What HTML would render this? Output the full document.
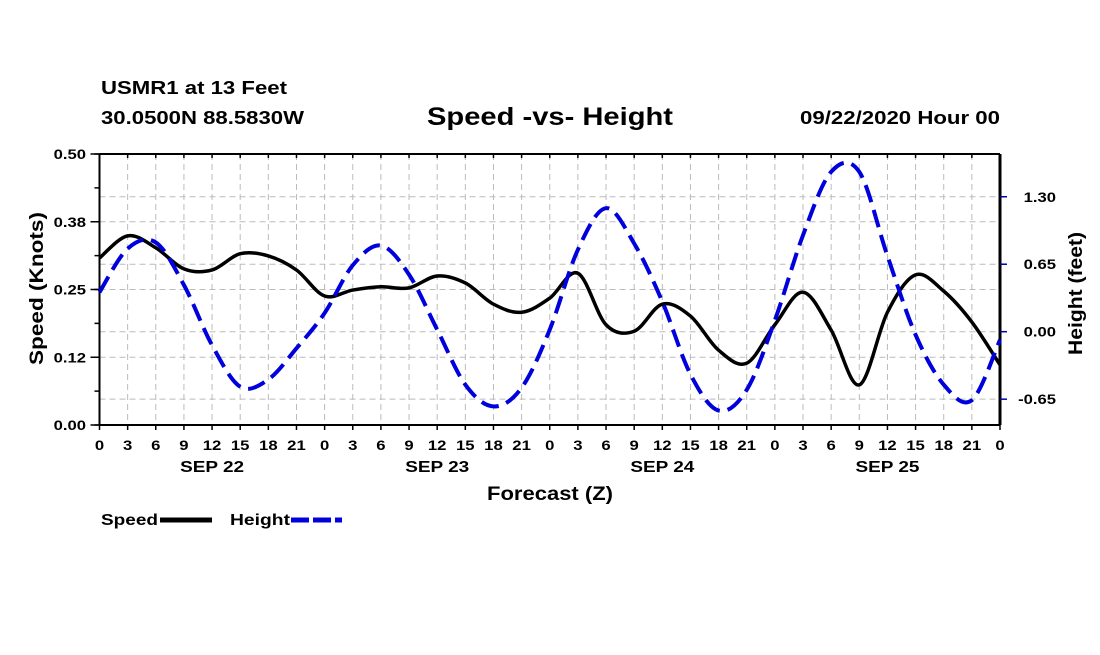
<!DOCTYPE html>
<html><head><meta charset="utf-8"><style>
body{margin:0;background:#fff;width:1100px;height:650px;overflow:hidden}
svg text{font-family:"Liberation Sans",sans-serif;font-weight:bold;fill:#000}
</style></head><body>
<svg id="chart" width="1100" height="650" xmlns="http://www.w3.org/2000/svg">
<text x="101" y="94" font-size="18" textLength="186" lengthAdjust="spacingAndGlyphs">USMR1 at 13 Feet</text>
<text x="101" y="124" font-size="18" textLength="203" lengthAdjust="spacingAndGlyphs">30.0500N 88.5830W</text>
<text x="427" y="125" font-size="25" textLength="246" lengthAdjust="spacingAndGlyphs">Speed -vs- Height</text>
<text x="800" y="124" font-size="18" textLength="200" lengthAdjust="spacingAndGlyphs">09/22/2020 Hour 00</text>
<g id="grid"></g>
<g id="axes"></g>
<g id="series"></g>
<text transform="translate(43,365) rotate(-90)" font-size="19" textLength="153" lengthAdjust="spacingAndGlyphs">Speed (Knots)</text>
<text transform="translate(1082,355) rotate(-90)" font-size="19" textLength="123" lengthAdjust="spacingAndGlyphs">Height (feet)</text>
<text x="487" y="500" font-size="19" textLength="126" lengthAdjust="spacingAndGlyphs">Forecast (Z)</text>
<g>
<text x="101" y="525" font-size="16" textLength="57" lengthAdjust="spacingAndGlyphs">Speed</text>
<line x1="160" y1="520" x2="212" y2="520" stroke="#000" stroke-width="5"/>
<text x="230" y="525" font-size="16" textLength="60" lengthAdjust="spacingAndGlyphs">Height</text>
<line x1="291" y1="520" x2="342" y2="520" stroke="#0000dd" stroke-width="5" stroke-dasharray="18,4"/>
</g>
</svg>
<script>
const hours=[0,3,6,9,12,15,18,21,24,27,30,33,36,39,42,45,48,51,54,57,60,63,66,69,72,75,78,81,84,87,90,93,96];
const speedValues=[0.308,0.349,0.327,0.288,0.286,0.316,0.312,0.286,0.238,0.249,0.255,0.253,0.275,0.262,0.223,0.208,0.234,0.280,0.185,0.173,0.223,0.201,0.138,0.114,0.185,0.245,0.175,0.074,0.208,0.277,0.247,0.190,0.111];
const heightValues=[0.38,0.80,0.86,0.45,-0.13,-0.53,-0.46,-0.16,0.18,0.64,0.83,0.55,0.02,-0.51,-0.72,-0.54,0.02,0.79,1.19,0.85,0.29,-0.41,-0.76,-0.56,0.11,0.93,1.54,1.54,0.73,-0.03,-0.51,-0.66,-0.08];
const speedTicks=[0,0.125,0.25,0.375,0.5];
const speedTickLabels=["0.00","0.12","0.25","0.38","0.50"];
const heightTicks=[-0.65,0,0.65,1.30];
const heightTickLabels=["-0.65","0.00","0.65","1.30"];
const dayLabels=["SEP 22","SEP 23","SEP 24","SEP 25"];
const L=99.5,R=1000,T=154,B=425;
const xs=h=>L+h*(R-L)/96;
const ys=v=>B-v*(B-T)/0.5;
const yh=v=>331.7-v*103.8;
const NS="http://www.w3.org/2000/svg";
function mk(tag,attrs,parent){const e=document.createElementNS(NS,tag);for(const k in attrs)e.setAttribute(k,attrs[k]);parent.appendChild(e);return e;}
function tw(s){let w=0;for(const c of s){w+=c==='.'?4.5:(c==='-'?5.5:9.3);}return w;}
const grid=document.getElementById('grid'),axes=document.getElementById('axes'),series=document.getElementById('series');
for(let h=3;h<96;h+=3){
 const g=mk('line',{x1:xs(h),x2:xs(h),y1:T,y2:B,stroke:'#bbb','stroke-width':1,'stroke-dasharray':'6,4'},grid);
 
 
}
speedTicks.slice(1,4).forEach(v=>{
 const g=mk('line',{x1:L,x2:R,y1:ys(v),y2:ys(v),stroke:'#bbb','stroke-width':1,'stroke-dasharray':'6,4'},grid);
 
 
});
heightTicks.forEach(v=>{
 const g=mk('line',{x1:L,x2:R,y1:yh(v),y2:yh(v),stroke:'#bbb','stroke-width':1,'stroke-dasharray':'6,4'},grid);
 
 
});
let a=mk('line',{x1:L,x2:L,y1:T,y2:B,stroke:'#000','stroke-width':2},axes);

a=mk('line',{x1:R,x2:R,y1:T,y2:B,stroke:'#000','stroke-width':3},axes);

a=mk('line',{x1:L,x2:R,y1:B,y2:B,stroke:'#000','stroke-width':2},axes);

a=mk('line',{x1:L,x2:R,y1:T,y2:T,stroke:'#000','stroke-width':2},axes);

for(let h=0;h<=96;h+=3){
 mk('line',{x1:xs(h),x2:xs(h),y1:B,y2:B+5,stroke:'#000','stroke-width':1.5},axes);
 mk('line',{x1:xs(h),x2:xs(h),y1:T,y2:T+4,stroke:'#000','stroke-width':1.5},axes);
 const s=String(h%24);
 const t=mk('text',{x:xs(h)-tw(s)/2,y:450,'font-size':14,textLength:tw(s),lengthAdjust:'spacingAndGlyphs'},axes);
 t.textContent=s;
 
 
}
dayLabels.forEach((d,i)=>{
 const t=mk('text',{x:xs(12+24*i)-32,y:472,'font-size':16,textLength:64,lengthAdjust:'spacingAndGlyphs'},axes);
 t.textContent=d;
 
 
});
for(let v=0;v<=0.5001;v+=0.0625){mk('line',{x1:L-5,x2:L,y1:ys(v),y2:ys(v),stroke:'#000','stroke-width':1.5},axes);}
speedTicks.forEach((v,i)=>{
 mk('line',{x1:L-9,x2:L,y1:ys(v),y2:ys(v),stroke:'#000','stroke-width':1.5},axes);
 const s=speedTickLabels[i];
 const t=mk('text',{x:86-tw(s),y:ys(v)+5,'font-size':14,textLength:tw(s),lengthAdjust:'spacingAndGlyphs'},axes);
 t.textContent=s;
 
 
});
heightTicks.forEach((v,i)=>{
 mk('line',{x1:R,x2:R+7,y1:yh(v),y2:yh(v),stroke:'#0000aa','stroke-width':1.5},axes);
 const s=heightTickLabels[i];
 const t=mk('text',{x:1056-tw(s),y:yh(v)+5,'font-size':14,textLength:tw(s),lengthAdjust:'spacingAndGlyphs'},axes);
 t.textContent=s;
 
 
});
function smooth(pts){
 let d='M'+pts[0][0]+','+pts[0][1];
 for(let i=0;i<pts.length-1;i++){
  const p0=pts[i-1]||pts[i],p1=pts[i],p2=pts[i+1],p3=pts[i+2]||p2;
  const c1=[p1[0]+(p2[0]-p0[0])/6,p1[1]+(p2[1]-p0[1])/6],c2=[p2[0]-(p3[0]-p1[0])/6,p2[1]-(p3[1]-p1[1])/6];
  d+=' C'+c1[0]+','+c1[1]+' '+c2[0]+','+c2[1]+' '+p2[0]+','+p2[1];
 }
 return d;
}
const sp=mk('path',{d:smooth(hours.map((h,i)=>[xs(h),ys(speedValues[i])])),fill:'none',stroke:'#000','stroke-width':3.5,'stroke-linejoin':'round'},series);


const hp=mk('path',{d:smooth(hours.map((h,i)=>[xs(h),yh(heightValues[i])])),fill:'none',stroke:'#0000dd','stroke-width':4,'stroke-dasharray':'18,8'},series);


</script>
</body></html>
